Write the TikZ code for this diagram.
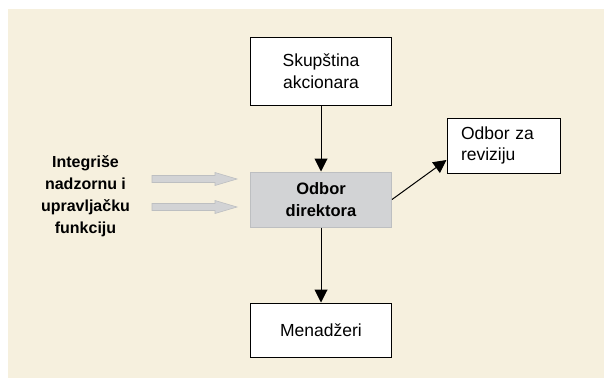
\documentclass[tikz,border=0pt]{standalone}
\usepackage{fontspec}
\setmainfont{Liberation Sans}
\usetikzlibrary{arrows.meta}

\definecolor{pozadina}{HTML}{F6F0DE}
\definecolor{sivo}{HTML}{D2D3D5}
\definecolor{sivorub}{HTML}{BDBFC1}

\begin{document}
\begin{tikzpicture}[x=1pt, y=-1pt,
    kutija/.style={draw=black, fill=white, line width=1pt, inner sep=0pt,
      minimum width=141pt, font=\fontsize{17.5}{21.5}\selectfont, align=center},
    veza/.style={line width=1pt, -{Triangle[length=13pt,width=13pt]}},
    debela/.style={fill=sivo, draw=sivorub, line width=0.6pt}]
    \def\xs{152}  % pocetak sive strelice
    \def\xh{215}  % pocetak glave
    \def\xv{237}  % vrh strelice
    % okvir i pozadina
    \useasboundingbox (0,0) rectangle (604,378);
    \fill[pozadina] (8,9) rectangle (604,378);
    % Kutije
    \node[kutija, minimum height=68pt] (skup) at (321,71) {Skupština\\akcionara};
    \node[kutija, minimum height=55pt, fill=sivo, draw=sivorub,
      font=\fontsize{16.5}{21.5}\selectfont\bfseries] (odbor) at (321,199.5) {Odbor\\direktora};
    \node[kutija, minimum height=54pt] (men) at (321,330) {Menadžeri};
    \node[kutija, minimum width=113pt, minimum height=55pt, align=left,
      text width=85pt, inner xsep=14pt] (rev) at (503.5,145.5) {Odbor za\\reviziju};
    % Tekst levo
    \node[font=\fontsize{16}{22}\selectfont\bfseries, align=center]
      (tekst) at (85.5,196) {Integriše\\nadzornu i\\upravljačku\\funkciju};
    % Sive strelice
    \foreach \y in {179,207} {
      \draw[debela] (\xs,\y-3.5) -- (\xh,\y-3.5) -- (\xh,\y-6.5) -- (\xv,\y)
        -- (\xh,\y+6.5) -- (\xh,\y+3.5) -- (\xs,\y+3.5) -- cycle;
    }
    % Veze
    \draw[veza] (skup) -- (odbor);
    \draw[veza] (odbor) -- (men);
    \draw[veza] (odbor.east) -- ([yshift=-14.5pt]rev.west);
\end{tikzpicture}
\end{document}
